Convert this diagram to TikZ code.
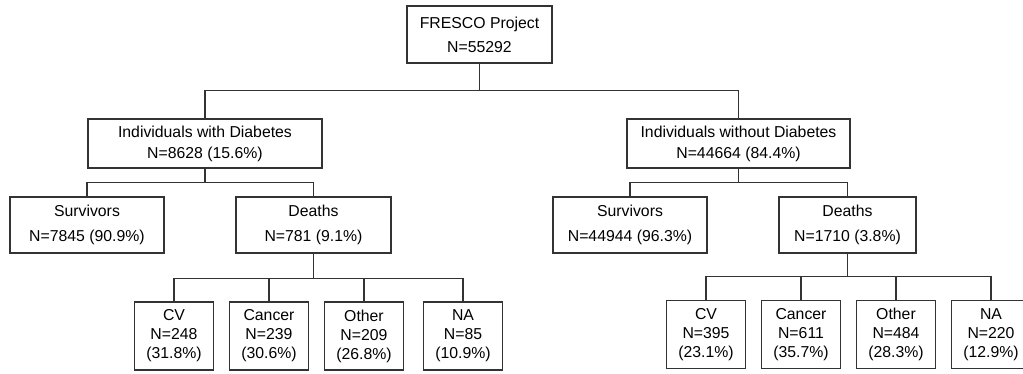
\documentclass[tikz,border=0pt]{standalone}
\usepackage{fontspec}
\setmainfont{Liberation Sans}
\usetikzlibrary{positioning}

\begin{document}
\begin{tikzpicture}[x=1pt, y=1pt, on grid,
		box/.style={rectangle, draw=black!80, line width=1.1pt, align=center, inner sep=0pt},
		top node/.style={box, minimum width=145pt, minimum height=57pt, font=\fontsize{15.8}{24}\selectfont},
		group node/.style={box, minimum height=49pt, font=\fontsize{15.8}{21}\selectfont},
		outcome node/.style={box, minimum height=56pt, font=\fontsize{15.8}{25}\selectfont},
		cause node/.style={box, minimum width=79pt, minimum height=68pt, font=\fontsize{15.8}{19}\selectfont},
		bus/.style={to path={(\tikztostart.south) -- ++(0,-#1) -| (\tikztotarget.north)}}]
		
		\useasboundingbox (-479.5,34.5) rectangle (543.5,-339.5);
		
		\node[top node] (1) {FRESCO Project\\N=55292};
		\node[group node, minimum width=234pt] (2) [below left=109pt and 274.5pt of 1] {Individuals with Diabetes\\N=8628 (15.6\%)};
		\node[group node, minimum width=223pt] (3) [below right=109pt and 259pt of 1] {Individuals without Diabetes\\N=44664 (84.4\%)};
		
		\node[outcome node, minimum width=154pt] (4) [below left=81.5pt and 118pt of 2] {Survivors\\N=7845 (90.9\%)};
		\node[outcome node, minimum width=155pt] (5) [below right=81.5pt and 108.5pt of 2] {Deaths\\N=781 (9.1\%)};
		\node[outcome node, minimum width=154pt] (6) [below left=81.5pt and 108.5pt of 3] {Survivors\\N=44944 (96.3\%)};
		\node[outcome node, minimum width=137pt] (7) [below right=81.5pt and 109pt of 3] {Deaths\\N=1710 (3.8\%)};
		
		\node[cause node] (8) [below left=111pt and 139.5pt of 5] {CV\\N=248\\(31.8\%)};
		\node[cause node] (9) [right=95pt of 8] {Cancer\\N=239\\(30.6\%)};
		\node[cause node] (10) [right=95pt of 9] {Other\\N=209\\(26.8\%)};
		\node[cause node] (11) [right=99pt of 10] {NA\\N=85\\(10.9\%)};
		
		\node[cause node] (12) [below left=109.5pt and 141.5pt of 7] {CV\\N=395\\(23.1\%)};
		\node[cause node] (13) [right=95pt of 12] {Cancer\\N=611\\(35.7\%)};
		\node[cause node] (14) [right=95pt of 13] {Other\\N=484\\(28.3\%)};
		\node[cause node] (15) [right=95pt of 14] {NA\\N=220\\(12.9\%)};
		
		\path[every edge/.style={draw, black!80, line width=1.1pt}]
		(1) edge [bus=27pt] (2)
		edge [bus=27pt] (3)
		(2) edge [bus=14pt] (4)
		edge [bus=14pt] (5)
		(3) edge [bus=14pt] (6)
		edge [bus=14pt] (7)
		(5) edge [bus=25pt] (8)
		edge [bus=25pt] (9)
		edge [bus=25pt] (10)
		edge [bus=25pt] (11)
		(7) edge [bus=23pt] (12)
		edge [bus=23pt] (13)
		edge [bus=23pt] (14)
		edge [bus=23pt] (15);
\end{tikzpicture}
\end{document}
